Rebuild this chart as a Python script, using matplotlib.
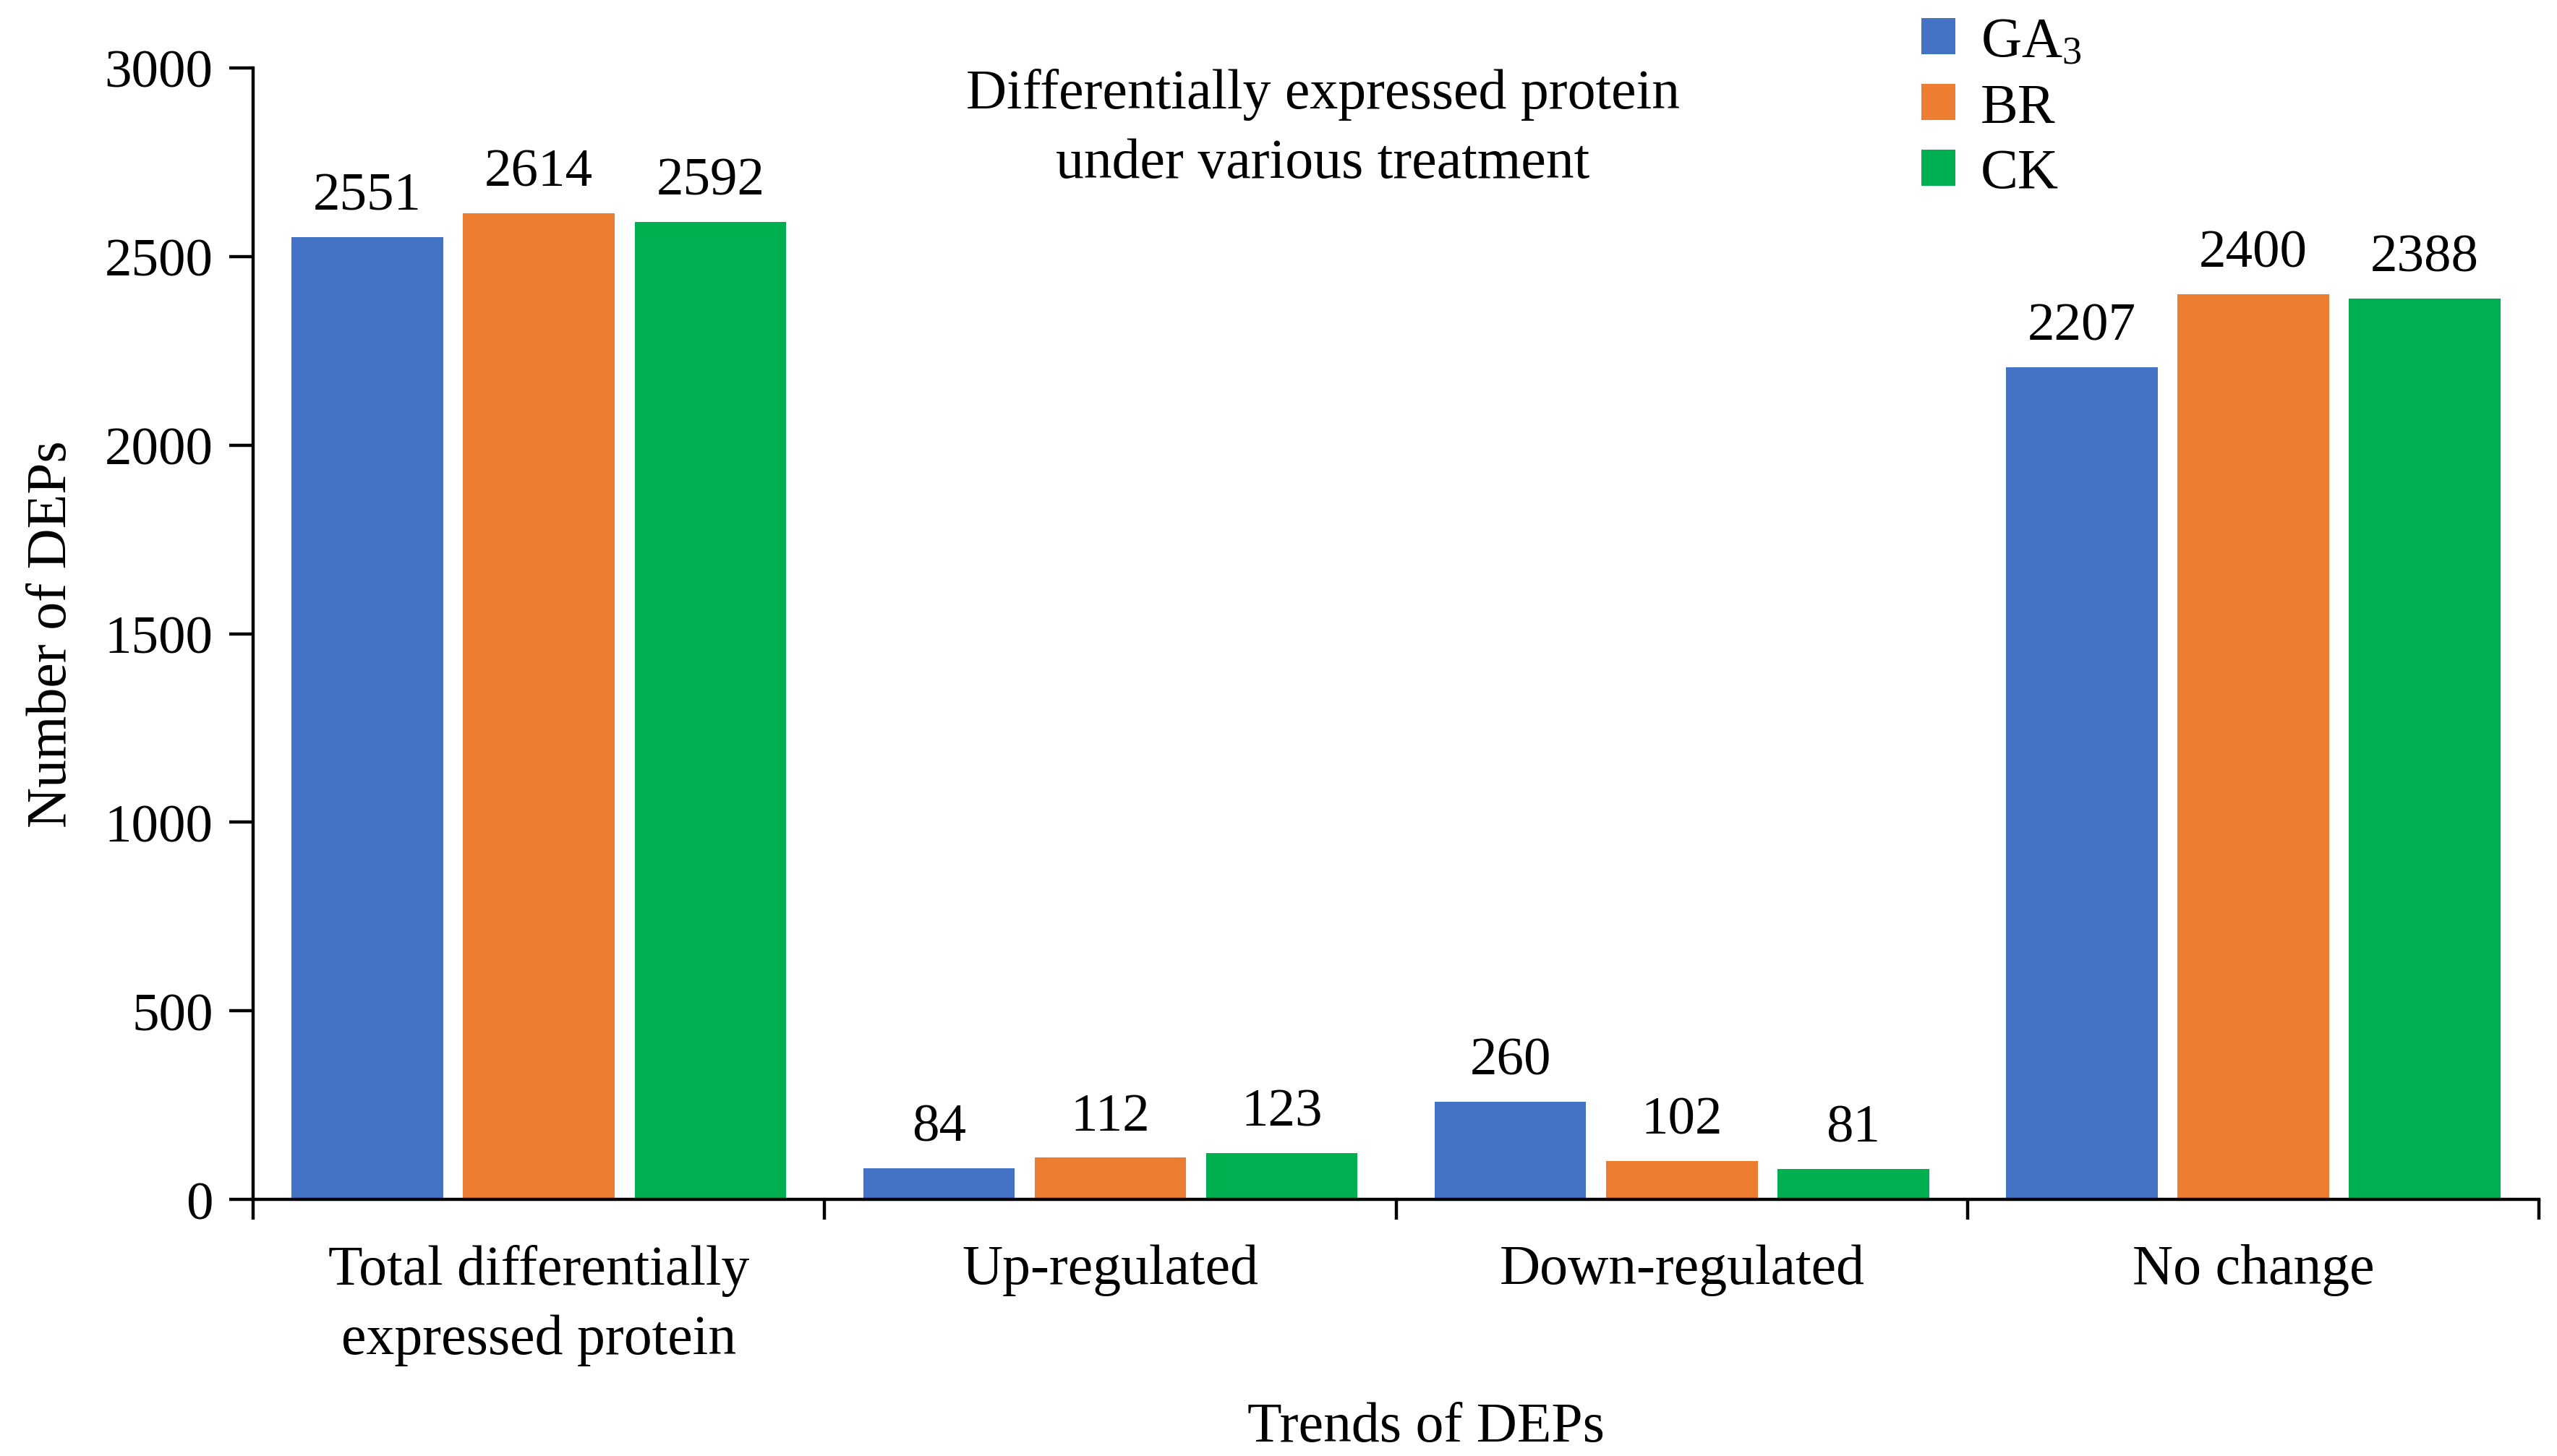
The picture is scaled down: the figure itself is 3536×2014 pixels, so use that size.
import matplotlib
matplotlib.use("Agg")
import matplotlib.pyplot as plt
import numpy as np


# data
categories = ["Total differentially\nexpressed protein", "Up-regulated",
              "Down-regulated", "No change"]
series_names = ["GA$_3$", "BR", "CK"]
ga3_values = [2551, 84, 260, 2207]
br_values = [2614, 112, 102, 2400]
ck_values = [2592, 123, 81, 2388]
y_ticks = [0, 500, 1000, 1500, 2000, 2500, 3000]

colors = ["#4472C4", "#ED7D31", "#00B050"]

plt.rcParams["font.family"] = ["Liberation Serif", "DejaVu Serif"]
plt.rcParams["mathtext.fontset"] = "custom"
plt.rcParams["mathtext.rm"] = "Liberation Serif"
plt.rcParams["mathtext.it"] = "Liberation Serif"

fs = 28
fs_num = 27

fig = plt.figure(figsize=(17.68, 10.075), dpi=200)
ax = fig.add_axes([0.099, 0.176, 0.894, 0.777])

x = np.arange(len(categories))
width = 0.265
offsets = [-0.3, 0.0, 0.3]
all_values = [ga3_values, br_values, ck_values]

for vals, off, col, name in zip(all_values, offsets, colors, series_names):
    bars = ax.bar(x + off, vals, width, color=col, label=name)
    for b, v in zip(bars, vals):
        ax.annotate(str(v), (b.get_x() + b.get_width() / 2, v),
                    xytext=(0, 8), textcoords="offset points",
                    ha="center", va="bottom", fontsize=fs_num)

ax.set_xlim(-0.5, 3.5)
ax.set_ylim(0, 3000)
ax.set_yticks(y_ticks)
ax.set_yticklabels([str(t) for t in y_ticks], fontsize=fs_num)

# category names in the middle, ticks on group borders
ax.set_xticks(np.arange(-0.5, 4.0, 1.0))
ax.set_xticklabels([])
ax.set_xticks(x, minor=True)
ax.set_xticklabels(categories, minor=True, fontsize=fs, linespacing=1.45)
ax.tick_params(axis="x", which="minor", length=0, pad=22)
ax.tick_params(axis="x", which="major", length=10, width=1.6, direction="out")
ax.tick_params(axis="y", length=12, width=1.6, direction="out", pad=8)

for s in ["top", "right"]:
    ax.spines[s].set_visible(False)
ax.spines["left"].set_linewidth(1.6)
ax.spines["bottom"].set_linewidth(1.6)
ax.spines["left"].set_bounds(0, 3000)

ax.set_xlabel("Trends of DEPs", fontsize=fs)
ax.xaxis.set_label_coords(0.513, -0.178)
ax.set_ylabel("Number of DEPs", fontsize=fs, labelpad=13)

ax.text(0.468, 1.0, "Differentially expressed protein\nunder various treatment",
        transform=ax.transAxes, ha="center", va="top", fontsize=fs,
        linespacing=1.45)

ax.legend(loc="upper left", bbox_to_anchor=(0.72, 1.065), frameon=False,
          fontsize=fs, handlelength=0.6, handleheight=0.6, handletextpad=0.45,
          labelspacing=0.25, borderaxespad=0)

fig.savefig("out.png", dpi=200)
